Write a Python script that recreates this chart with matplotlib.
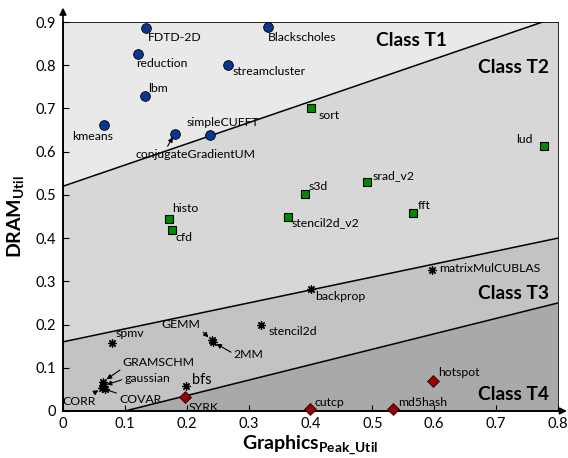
import numpy as np
import matplotlib.pyplot as plt

plt.rcParams['font.family'] = ['Lato', 'DejaVu Sans']
plt.rcParams['mathtext.fontset'] = 'custom'
plt.rcParams['mathtext.bf'] = 'Lato:bold'
plt.rcParams['mathtext.rm'] = 'Lato'

# Class T1 - memory bound kernels
t1_names = ['FDTD-2D', 'Blackscholes', 'reduction', 'streamcluster', 'lbm',
            'kmeans', 'conjugateGradientUM', 'simpleCUFFT']
t1_x = [0.134, 0.332, 0.121, 0.266, 0.133, 0.066, 0.181, 0.237]
t1_y = [0.887, 0.889, 0.827, 0.801, 0.728, 0.662, 0.642, 0.639]

# Class T2
t2_names = ['sort', 'lud', 'srad_v2', 's3d', 'fft', 'stencil2d_v2', 'histo', 'cfd']
t2_x = [0.401, 0.777, 0.492, 0.391, 0.566, 0.363, 0.172, 0.176]
t2_y = [0.700, 0.614, 0.529, 0.501, 0.457, 0.450, 0.444, 0.419]

# Class T3
t3_names = ['matrixMulCUBLAS', 'backprop', 'stencil2d', 'GEMM', '2MM', 'spmv',
            'bfs', 'GRAMSCHM', 'gaussian', 'CORR', 'COVAR']
t3_x = [0.597, 0.400, 0.320, 0.240, 0.242, 0.079, 0.199, 0.065, 0.064, 0.063, 0.068]
t3_y = [0.326, 0.282, 0.199, 0.164, 0.160, 0.158, 0.058, 0.068, 0.058, 0.053, 0.050]

# Class T4 - compute bound kernels
t4_names = ['SYRK', 'cutcp', 'md5hash', 'hotspot']
t4_x = [0.197, 0.399, 0.533, 0.598]
t4_y = [0.032, 0.004, 0.004, 0.070]

# class boundaries (x, y endpoints)
b12_x, b12_y = [0.0, 0.775], [0.52, 0.90]
b23_x, b23_y = [0.0, 0.80], [0.16, 0.40]
b34_x, b34_y = [0.10, 0.80], [0.0, 0.25]

x_ticks = [0, 0.1, 0.2, 0.3, 0.4, 0.5, 0.6, 0.7, 0.8]
y_ticks = [0, 0.1, 0.2, 0.3, 0.4, 0.5, 0.6, 0.7, 0.8, 0.9]

# label offsets in pixels: name -> (dx, dy, ha, arrowprops)
arr = dict(arrowstyle='-|>', color='black', lw=0.8, mutation_scale=7, shrinkA=0, shrinkB=3)
line = dict(arrowstyle='-', color='black', lw=0.8, shrinkA=0, shrinkB=2)
label_pos = {
    'FDTD-2D': (2, -10, 'left', None),
    'Blackscholes': (-1, -11, 'left', None),
    'reduction': (-2, -9.5, 'left', None),
    'streamcluster': (5, -7, 'left', None),
    'lbm': (3, 8, 'left', None),
    'kmeans': (-11.5, -11.5, 'center', None),
    'simpleCUFFT': (-23, 12, 'left', None),
    'conjugateGradientUM': (-39, -21, 'left', dict(arr, relpos=(0.25, 1))),
    'sort': (7, -7.5, 'left', None),
    'lud': (-11, 6, 'right', None),
    'srad_v2': (5, 7, 'left', None),
    's3d': (4, 7.5, 'left', None),
    'fft': (5, 8, 'left', None),
    'stencil2d_v2': (4, -6.5, 'left', None),
    'histo': (3, 11, 'left', None),
    'cfd': (4, -8, 'left', None),
    'matrixMulCUBLAS': (7, 2, 'left', None),
    'backprop': (4.5, -7.5, 'left', None),
    'stencil2d': (8, -6.5, 'left', None),
    'GEMM': (-30.5, 16, 'center', dict(arr, relpos=(1, 0))),
    '2MM': (21, -13, 'left', dict(arr, relpos=(0, 0.6))),
    'spmv': (3.5, 9.5, 'left', None),
    'bfs': (6, 6, 'left', None),
    'GRAMSCHM': (19.5, 19, 'left', dict(arr, relpos=(0, 0))),
    'gaussian': (22, 7, 'left', dict(arr, relpos=(0, 0.5))),
    'CORR': (-22.5, -13, 'center', dict(arr, relpos=(0.8, 1))),
    'COVAR': (14, -10, 'left', dict(line, relpos=(0, 1))),
    'SYRK': (3.5, -10, 'left', dict(line, relpos=(0, 0.2))),
    'cutcp': (5, 6.5, 'left', None),
    'md5hash': (5, 6.5, 'left', None),
    'hotspot': (5, 8, 'left', None),
}

fig = plt.figure(figsize=(5.68, 4.58), dpi=100)
ax = fig.add_axes([63 / 568, 47 / 458, 495 / 568, 389 / 458])
ax.set_xlim(0, 0.8)
ax.set_ylim(0, 0.9)

# shaded class regions
ax.set_facecolor('#e9e9e9')
ax.fill([0, 0, b12_x[1], 0.8, 0.8], [0, b12_y[0], b12_y[1], 0.9, 0], color='#d7d7d7', lw=0)
ax.fill([0, 0, 0.8, 0.8], [0, b23_y[0], b23_y[1], 0], color='#c3c3c3', lw=0)
ax.fill([b34_x[0], 0.8, 0.8], [0, b34_y[1], 0], color='#a9a9a9', lw=0)
for bx, by in [(b12_x, b12_y), (b23_x, b23_y), (b34_x, b34_y)]:
    ax.plot(bx, by, color='black', lw=1.1)

ax.plot(t1_x, t1_y, 'o', ms=7, mfc='#0a3591', mec='black', mew=0.6, ls='none', zorder=5)
ax.plot(t2_x, t2_y, 's', ms=5.5, mfc='#008a00', mec='black', mew=0.8, ls='none', zorder=5)
ax.plot(t3_x, t3_y, marker=(8, 2, 0), ms=6, color='black', mew=0.9, ls='none', zorder=5)
ax.plot(t4_x, t4_y, 'D', ms=6, mfc='#9b0000', mec='black', mew=0.5, ls='none',
        zorder=5, clip_on=False)

for names, xs, ys in [(t1_names, t1_x, t1_y), (t2_names, t2_x, t2_y),
                      (t3_names, t3_x, t3_y), (t4_names, t4_x, t4_y)]:
    for n, x, y in zip(names, xs, ys):
        dx, dy, ha, ap = label_pos[n]
        ax.annotate(n, (x, y), xytext=(dx, dy), textcoords='offset pixels',
                    ha=ha, va='center', fontsize=10.5 if n == 'bfs' else 8.8,
                    arrowprops=ap, zorder=6, annotation_clip=False)

for txt, x, y, ha in [('Class T1', 0.563, 0.857, 'center'), ('Class T2', 0.786, 0.795, 'right'),
                      ('Class T3', 0.786, 0.272, 'right'), ('Class T4', 0.786, 0.039, 'right')]:
    ax.text(x, y, txt, ha=ha, va='center', fontsize=13.8, fontweight='bold')

ax.set_xticks(x_ticks)
ax.set_yticks(y_ticks)
ax.set_xticklabels([f'{v:g}' for v in x_ticks])
ax.set_yticklabels([f'{v:g}' for v in y_ticks])
ax.tick_params(direction='in', length=4, width=0.8, labelsize=10.5)
ax.tick_params(axis='x', pad=4)
ax.tick_params(axis='y', pad=5)

for s in ['top', 'right']:
    ax.spines[s].set_linewidth(0.6)
for s in ['left', 'bottom']:
    ax.spines[s].set_linewidth(1.2)

# arrowheads on the main axes
ax.annotate('', xy=(0, 1.037), xytext=(0, 0), xycoords='axes fraction',
            arrowprops=dict(arrowstyle='-|>', color='black', lw=1.2, mutation_scale=10,
                            shrinkA=0, shrinkB=0))
ax.annotate('', xy=(1.018, 0), xytext=(0, 0), xycoords='axes fraction',
            arrowprops=dict(arrowstyle='-|>', color='black', lw=1.2, mutation_scale=10,
                            shrinkA=0, shrinkB=0))

ax.set_xlabel(r'$\mathbf{Graphics}_{\mathbf{Peak\_Util}}$', fontsize=14, labelpad=2)
ax.set_ylabel(r'$\mathbf{DRAM}_{\mathbf{Util}}$', fontsize=14, labelpad=6)

fig.savefig('out.png', dpi=100)
